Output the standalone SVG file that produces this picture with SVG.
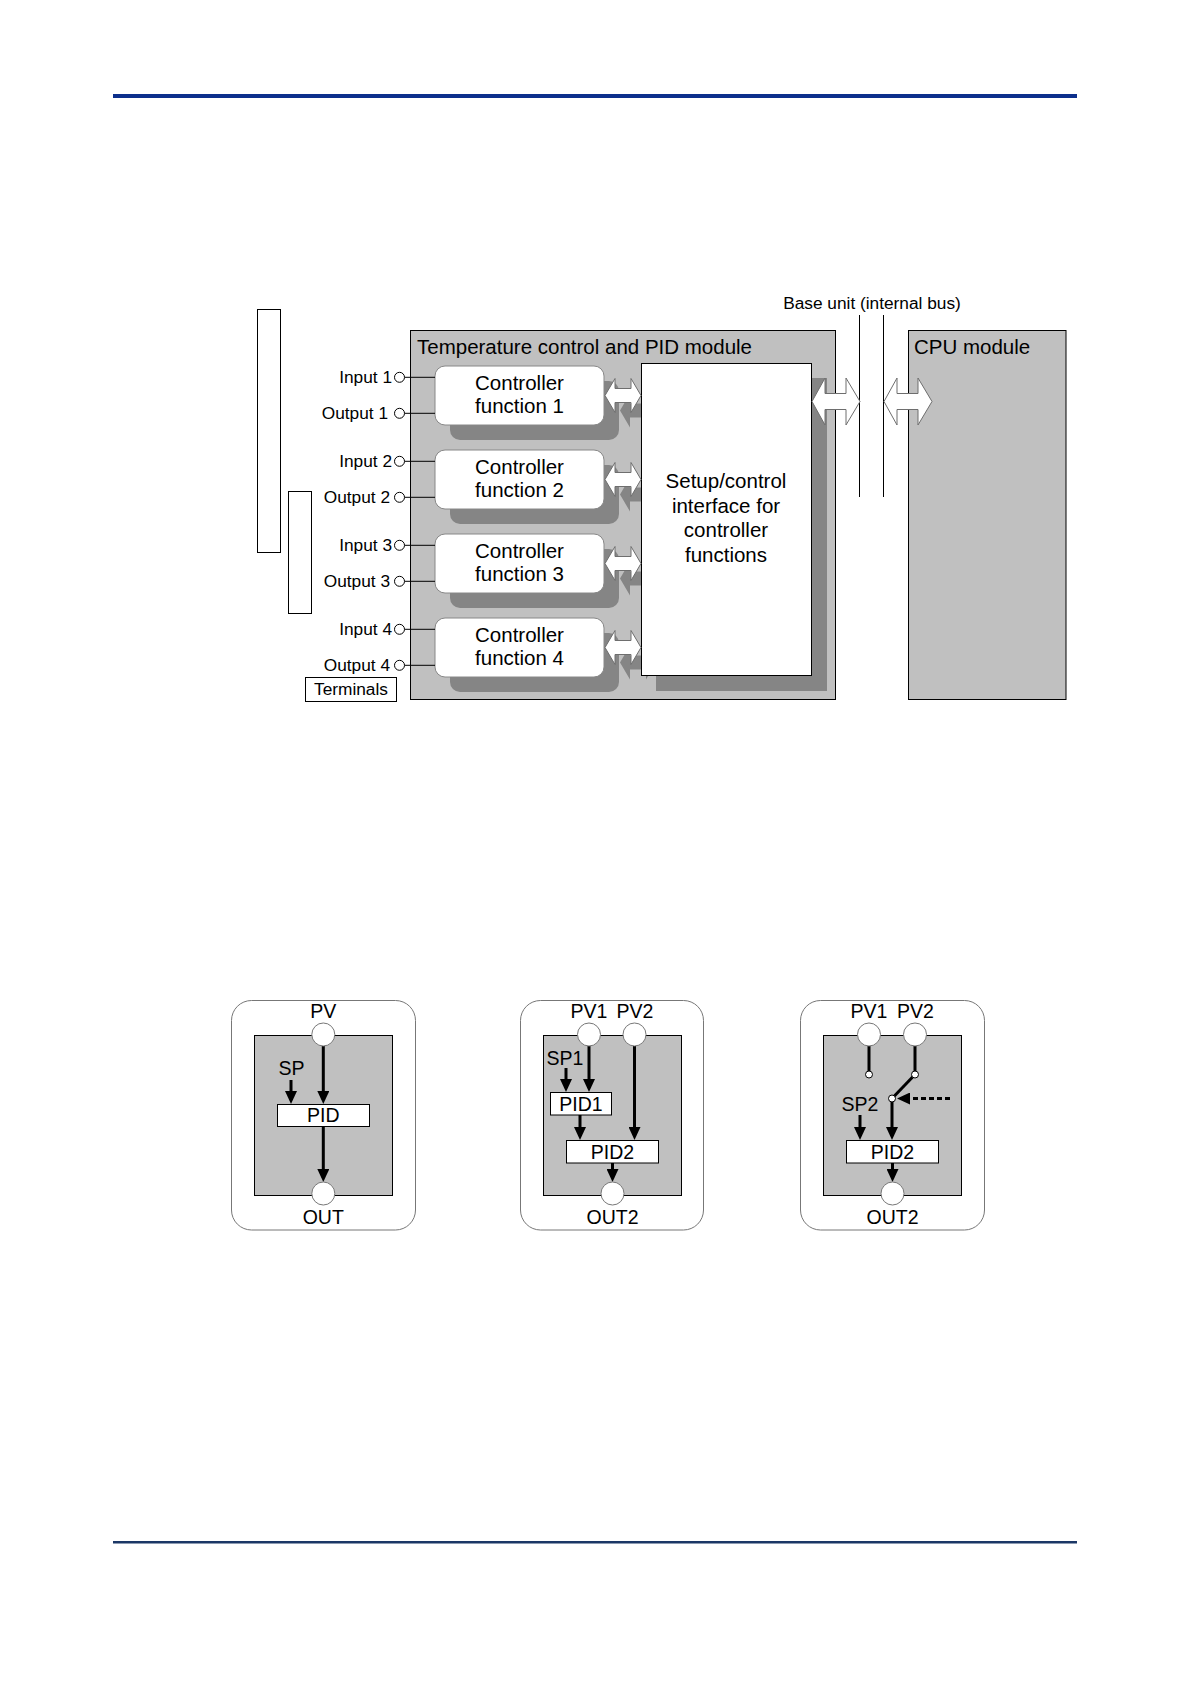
<svg xmlns="http://www.w3.org/2000/svg" width="1190" height="1684" viewBox="0 0 1190 1684">
<style>
text{font-family:"Liberation Sans",Arial,sans-serif;fill:#000}
.t20{font-size:20.5px}
.t17{font-size:17.3px}
.t18{font-size:19.5px}
.mid{text-anchor:middle}
.end{text-anchor:end}
.gray{fill:#c0c0c0;stroke:#000;stroke-width:1}
.shadow{fill:#858585}
.cbox{fill:#fff;stroke:#888;stroke-width:1}
.barrow{fill:#fff;stroke:#6e6e6e;stroke-width:1}
.thin{stroke:#000;stroke-width:1;fill:none}
.term{fill:#fff;stroke:#000;stroke-width:1}
.outer{fill:#fff;stroke:#777;stroke-width:1}
.pc{fill:#fff;stroke:#777;stroke-width:1}
.box{fill:#fff;stroke:#000;stroke-width:1}
.flow{stroke:#000;stroke-width:3;fill:none;marker-end:url(#ah)}
.dash{stroke:#000;stroke-width:3;fill:none;stroke-dasharray:5 3;marker-end:url(#ah)}
.wire{stroke:#000;stroke-width:3;fill:none}
.contact{fill:#fff;stroke:#000;stroke-width:1}
</style>
<defs>
<marker id="ah" markerUnits="userSpaceOnUse" viewBox="0 0 13 12" refX="9" refY="6" markerWidth="13" markerHeight="12" orient="auto">
<path d="M0,0 L13,6 L0,12 Z" fill="#000"/>
</marker>
<path id="sarrow" d="M0,0 L10,-17 L10,-7 L26,-7 L26,-17 L36,0 L26,17 L26,7 L10,7 L10,17 Z"/>
<path id="larrow" d="M0,0 L13,-23.5 L13,-8 L34,-8 L34,-23.5 L48,0 L34,23.5 L34,8 L13,8 L13,23.5 Z"/>
</defs>

<!-- page rules -->
<rect x="113" y="94" width="964" height="4" fill="#0d2f8c"/>
<rect x="113" y="1541" width="964" height="2.5" fill="#1b3766"/>

<!-- terminal blocks -->
<g id="terminal-block-1"><rect x="257.5" y="309.5" width="23" height="243" class="thin"/></g>
<g id="terminal-block-2"><rect x="288.5" y="491.5" width="23" height="122" class="thin"/></g>
<g id="terminals-label"><rect x="305.5" y="677.5" width="91" height="24" class="thin"/><text x="351" y="694.5" class="t17 mid">Terminals</text></g>

<!-- PID module -->
<g id="pid-module">
<rect x="410.5" y="330.5" width="425" height="369" class="gray"/>
<text x="417" y="354" class="t20">Temperature control and PID module</text>
<!-- shadows -->
<rect x="656" y="378" width="171" height="313" class="shadow"/>
<rect x="450" y="381" width="169" height="59" rx="10" class="shadow"/>
<rect x="450" y="465" width="169" height="59" rx="10" class="shadow"/>
<rect x="450" y="549" width="169" height="59" rx="10" class="shadow"/>
<rect x="450" y="633" width="169" height="59" rx="10" class="shadow"/>
<use href="#sarrow" x="620" y="410.5" class="shadow"/>
<use href="#sarrow" x="620" y="494.5" class="shadow"/>
<use href="#sarrow" x="620" y="578.5" class="shadow"/>
<use href="#sarrow" x="620" y="662.5" class="shadow"/>
</g>

<g id="setup-interface">
<rect x="641.5" y="363.5" width="170" height="312" class="box"/>
<text x="726" y="488" class="t20 mid">Setup/control</text>
<text x="726" y="512.5" class="t20 mid">interface for</text>
<text x="726" y="537" class="t20 mid">controller</text>
<text x="726" y="561.5" class="t20 mid">functions</text>
</g>

<g id="controller-1">
<rect x="435" y="366" width="169" height="59" rx="10" class="cbox"/>
<text x="519.5" y="390" class="t20 mid">Controller</text>
<text x="519.5" y="413.3" class="t20 mid">function 1</text>
</g>
<g id="controller-2">
<rect x="435" y="450" width="169" height="59" rx="10" class="cbox"/>
<text x="519.5" y="474" class="t20 mid">Controller</text>
<text x="519.5" y="497.3" class="t20 mid">function 2</text>
</g>
<g id="controller-3">
<rect x="435" y="534" width="169" height="59" rx="10" class="cbox"/>
<text x="519.5" y="558" class="t20 mid">Controller</text>
<text x="519.5" y="581.3" class="t20 mid">function 3</text>
</g>
<g id="controller-4">
<rect x="435" y="618" width="169" height="59" rx="10" class="cbox"/>
<text x="519.5" y="642" class="t20 mid">Controller</text>
<text x="519.5" y="665.3" class="t20 mid">function 4</text>
</g>

<g id="cpu-module">
<rect x="908.5" y="330.5" width="157.5" height="369" class="gray"/>
<text x="914" y="354" class="t20">CPU module</text>
</g>

<g id="base-unit">
<line x1="859.5" y1="315" x2="859.5" y2="497" class="thin"/>
<line x1="883.5" y1="315" x2="883.5" y2="497" class="thin"/>
<text x="872" y="309" class="t17 mid">Base unit (internal bus)</text>
</g>

<g id="terminal-io">
<text x="392" y="383.3" class="t17 end">Input 1</text>
<text x="388" y="419.3" class="t17 end">Output 1</text>
<text x="392" y="467" class="t17 end">Input 2</text>
<text x="390" y="503" class="t17 end">Output 2</text>
<text x="392" y="551" class="t17 end">Input 3</text>
<text x="390" y="587" class="t17 end">Output 3</text>
<text x="392" y="635" class="t17 end">Input 4</text>
<text x="390" y="671" class="t17 end">Output 4</text>
</g>

<g id="connectors">
<g class="thin">
<line x1="404.5" y1="377.3" x2="435" y2="377.3"/>
<line x1="404.5" y1="413.3" x2="435" y2="413.3"/>
<line x1="404.5" y1="461.3" x2="435" y2="461.3"/>
<line x1="404.5" y1="497.3" x2="435" y2="497.3"/>
<line x1="404.5" y1="545.3" x2="435" y2="545.3"/>
<line x1="404.5" y1="581.3" x2="435" y2="581.3"/>
<line x1="404.5" y1="629.3" x2="435" y2="629.3"/>
<line x1="404.5" y1="665.3" x2="435" y2="665.3"/>
</g>
<g class="term">
<circle cx="399.5" cy="377.3" r="5"/>
<circle cx="399.5" cy="413.3" r="5"/>
<circle cx="399.5" cy="461.3" r="5"/>
<circle cx="399.5" cy="497.3" r="5"/>
<circle cx="399.5" cy="545.3" r="5"/>
<circle cx="399.5" cy="581.3" r="5"/>
<circle cx="399.5" cy="629.3" r="5"/>
<circle cx="399.5" cy="665.3" r="5"/>
</g>
<use href="#sarrow" x="605" y="395.5" class="barrow"/>
<use href="#sarrow" x="605" y="479.5" class="barrow"/>
<use href="#sarrow" x="605" y="563.5" class="barrow"/>
<use href="#sarrow" x="605" y="647.5" class="barrow"/>
<use href="#larrow" x="812" y="401.5" class="barrow"/>
<use href="#larrow" x="884" y="401.5" class="barrow"/>
</g>

<!-- bottom: single loop -->
<g id="loop-single">
<rect x="231.5" y="1000.5" width="184" height="229.5" rx="20" class="outer"/>
<rect x="254.5" y="1035.5" width="138" height="160" class="gray"/>
<text x="323.3" y="1017.5" class="t18 mid">PV</text>
<text x="291.5" y="1075" class="t18 mid">SP</text>
<rect x="277.5" y="1104.5" width="92" height="22" class="box"/>
<text x="323.3" y="1121.5" class="t18 mid">PID</text>
<line x1="323.3" y1="1046" x2="323.3" y2="1100" class="flow"/>
<line x1="291" y1="1080" x2="291" y2="1100" class="flow"/>
<line x1="323.3" y1="1127" x2="323.3" y2="1178" class="flow"/>
<circle cx="323.3" cy="1034.5" r="11.5" class="pc"/>
<circle cx="323.3" cy="1193.5" r="11.5" class="pc"/>
<text x="323.3" y="1223.5" class="t18 mid">OUT</text>
</g>

<!-- bottom: cascade -->
<g id="loop-cascade">
<rect x="520.5" y="1000.5" width="183" height="229.5" rx="20" class="outer"/>
<rect x="543.5" y="1035.5" width="138" height="160" class="gray"/>
<text x="589" y="1017.5" class="t18 mid">PV1</text>
<text x="635" y="1017.5" class="t18 mid">PV2</text>
<text x="565" y="1065" class="t18 mid">SP1</text>
<rect x="550.5" y="1092.5" width="61" height="22.5" class="box"/>
<text x="581" y="1110.5" class="t18 mid">PID1</text>
<rect x="566.5" y="1140.5" width="92" height="22.5" class="box"/>
<text x="612.5" y="1159" class="t18 mid">PID2</text>
<line x1="566" y1="1068" x2="566" y2="1088" class="flow"/>
<line x1="589" y1="1046" x2="589" y2="1088" class="flow"/>
<line x1="580" y1="1115" x2="580" y2="1136" class="flow"/>
<line x1="634.5" y1="1046" x2="634.5" y2="1136" class="flow"/>
<line x1="612.5" y1="1163" x2="612.5" y2="1178" class="flow"/>
<circle cx="589" cy="1034.5" r="11.5" class="pc"/>
<circle cx="634.5" cy="1034.5" r="11.5" class="pc"/>
<circle cx="612.5" cy="1193.5" r="11.5" class="pc"/>
<text x="612.5" y="1223.5" class="t18 mid">OUT2</text>
</g>

<!-- bottom: selector -->
<g id="loop-selector">
<rect x="800.5" y="1000.5" width="184" height="229.5" rx="20" class="outer"/>
<rect x="823.5" y="1035.5" width="138" height="160" class="gray"/>
<text x="869" y="1017.5" class="t18 mid">PV1</text>
<text x="915.5" y="1017.5" class="t18 mid">PV2</text>
<text x="860" y="1111" class="t18 mid">SP2</text>
<rect x="846.5" y="1140.5" width="92" height="22.5" class="box"/>
<text x="892.5" y="1159" class="t18 mid">PID2</text>
<line x1="869" y1="1046" x2="869" y2="1071" class="wire"/>
<line x1="915" y1="1046" x2="915" y2="1071" class="wire"/>
<line x1="915" y1="1074.5" x2="892" y2="1098.5" class="wire"/>
<line x1="950" y1="1098.5" x2="901" y2="1098.5" class="dash"/>
<line x1="892" y1="1102" x2="892" y2="1136" class="flow"/>
<line x1="860" y1="1115" x2="860" y2="1136" class="flow"/>
<line x1="892.5" y1="1163" x2="892.5" y2="1178" class="flow"/>
<circle cx="869" cy="1074.5" r="3.5" class="contact"/>
<circle cx="915" cy="1074.5" r="3.5" class="contact"/>
<circle cx="892" cy="1098.5" r="3.5" class="contact"/>
<circle cx="869" cy="1034.5" r="11.5" class="pc"/>
<circle cx="915" cy="1034.5" r="11.5" class="pc"/>
<circle cx="892.5" cy="1193.5" r="11.5" class="pc"/>
<text x="892.5" y="1223.5" class="t18 mid">OUT2</text>
</g>
</svg>
